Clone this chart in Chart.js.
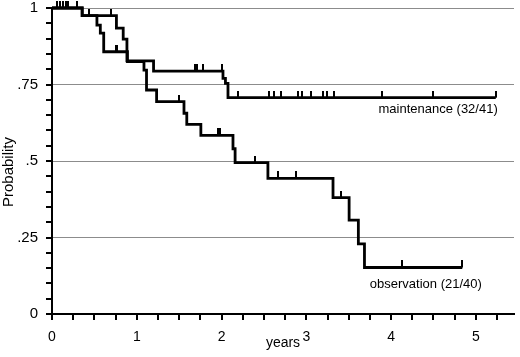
<style>body { margin: 0; background: #fff; }</style>

<canvas id="_chart" width="520" height="357"></canvas>

<script src="https://cdn.jsdelivr.net/npm/chart.js"></script>
<script>
// survival steps (time in years, probability after the drop)
const mntTimes = [0, 0.356, 0.76, 0.84, 0.884, 1.198, 2.017, 2.046, 2.076, 5.235];
const mntSurv  = [1, 0.975, 0.934, 0.898, 0.827, 0.794, 0.770, 0.754, 0.707, 0.707];
const mntCensor = [0.06, 0.13, 0.19, 0.30, 0.70, 1.684, 1.708, 1.776, 2.00, 2.19, 2.56, 2.62, 2.70,
	2.90, 2.95, 3.06, 3.20, 3.24, 3.33, 3.89, 4.50, 5.235];

const obsTimes = [0, 0.356, 0.53, 0.57, 0.61, 0.89, 1.085, 1.115, 1.234, 1.557, 1.59, 1.756, 2.135,
	2.16, 2.547, 3.315, 3.505, 3.614, 3.686, 4.84];
const obsSurv  = [1, 0.975, 0.944, 0.918, 0.857, 0.825, 0.797, 0.732, 0.694, 0.656, 0.62, 0.584, 0.54,
	0.495, 0.443, 0.380, 0.307, 0.229, 0.152, 0.152];
const obsCensor = [0.09, 0.16, 0.44, 0.75, 0.77, 1.50, 1.954, 1.98, 2.39, 2.665, 2.883, 3.408, 4.134, 4.84];

const curveNames = ['maintenance (32/41)', 'observation (21/40)'];
const xTickValues = [0, 1, 2, 3, 4, 5];
const xTickLabels = ['0', '1', '2', '3', '4', '5'];
const yTickValues = [0, 0.25, 0.5, 0.75, 1];
const yTickLabels = ['0', '.25', '.5', '.75', '1'];

// where the curve names sit, in data units
const namePos = [{x: 4.555, y: 0.670}, {x: 4.41, y: 0.098}];

const FONT = '"Liberation Sans", Arial, sans-serif';
const TICK = 6;
const near = (a, b) => Math.abs(a - b) < 1e-6;
const onQuarter = v => near(v * 4, Math.round(v * 4));

// minor tick positions: every .25 year, every .05 of probability
const minorTicks = (from, to, step) => [...Array(Math.round((to - from) / step) + 1)].map((_, i) => ({value: +(from + i * step).toFixed(4)}));

function survAt(times, surv, t) {
	let s = surv[0];
	for (let i = 0; i < times.length; i++) if (times[i] <= t + 1e-9) s = surv[i];
	return s;
}
const steps = (times, surv) => times.map((t, i) => ({x: t, y: surv[i]}));
const censors = (list, times, surv) => list.map(t => ({x: t, y: survAt(times, surv, t)}));

// small upward tick used as censor mark
const tickMark = document.createElement('canvas');
tickMark.width = 2; tickMark.height = 14;
tickMark.getContext('2d').fillRect(0, 0, 2, 7);

const curve = data => ({data, showLine: true, stepped: true, borderColor: '#000', borderWidth: 2.8,
	pointRadius: 0, fill: false, clip: false});
const marks = data => ({data, showLine: false, pointStyle: tickMark, pointRadius: 5, clip: false});

const labelPlugin = {
	id: 'curveNames',
	afterDraw(chart) {
		const {ctx, chartArea: a, scales: {x, y}} = chart;
		ctx.save();
		// axis tick marks, outside the plot
		ctx.strokeStyle = '#000';
		ctx.lineWidth = 2;
		ctx.beginPath();
		y.ticks.forEach(t => { const py = Math.round(y.getPixelForValue(t.value)); ctx.moveTo(a.left - TICK, py); ctx.lineTo(a.left, py); });
		x.ticks.forEach(t => { const px = Math.round(x.getPixelForValue(t.value)); ctx.moveTo(px, a.bottom); ctx.lineTo(px, a.bottom + TICK); });
		ctx.stroke();

		ctx.fillStyle = '#000';
		ctx.textAlign = 'center';
		ctx.textBaseline = 'middle';
		ctx.font = '13px ' + FONT;
		curveNames.forEach((name, i) => ctx.fillText(name, x.getPixelForValue(namePos[i].x), y.getPixelForValue(namePos[i].y)));
		// y axis title, sits a bit below the middle of the axis in the original
		ctx.translate(9, 172);
		ctx.rotate(-Math.PI / 2);
		ctx.font = '15px ' + FONT;
		ctx.fillText('Probability', 0, 0);
		ctx.restore();
	}
};

var chart = new Chart(_chart, {
	type: 'scatter',
	data: {
		datasets: [
			curve(steps(mntTimes, mntSurv)),
			curve(steps(obsTimes, obsSurv)),
			marks(censors(mntCensor, mntTimes, mntSurv)),
			marks(censors(obsCensor, obsTimes, obsSurv))
		]
	},
	options: {
		responsive: false,
		animation: false,
		layout: { padding: { left: 0, right: 6, top: 8, bottom: 0 } },
		plugins: { legend: { display: false }, tooltip: { enabled: false } },
		scales: {
			x: {
				min: 0, max: 5.45,
				afterBuildTicks: s => { s.ticks = minorTicks(0, 5.25, 0.25); },
				afterFit: s => { s.height = 43; },
				border: { color: '#000', width: 2 },
				grid: { drawOnChartArea: false, drawTicks: false },
				ticks: {
					autoSkip: false, maxRotation: 0, padding: 9 + TICK, color: '#000',
					font: { family: FONT, size: 14 },
					callback: v => { const i = xTickValues.findIndex(t => near(t, v)); return i < 0 ? '' : xTickLabels[i]; }
				},
				title: { display: true, text: 'years', color: '#000', font: { family: FONT, size: 14 }, padding: { top: 0, bottom: 5 } }
			},
			y: {
				min: 0, max: 1,
				afterBuildTicks: s => { s.ticks = minorTicks(0, 1, 0.05); },
				afterFit: s => { s.width = 52; s.paddingTop = 0; s.paddingBottom = 0; },
				border: { color: '#000', width: 2 },
				grid: {
					drawTicks: false, lineWidth: 1,
					color: c => (c.tick.value > 0 && onQuarter(c.tick.value)) ? '#8c8c8c' : 'rgba(0,0,0,0)'
				},
				ticks: {
					autoSkip: false, padding: 8 + TICK, color: '#000',
					font: { family: FONT, size: 15 },
					callback: v => { const i = yTickValues.findIndex(t => near(t, v)); return i < 0 ? '' : yTickLabels[i]; }
				},
				title: { display: false }
			}
		}
	},
	plugins: [labelPlugin]
});
</script>
